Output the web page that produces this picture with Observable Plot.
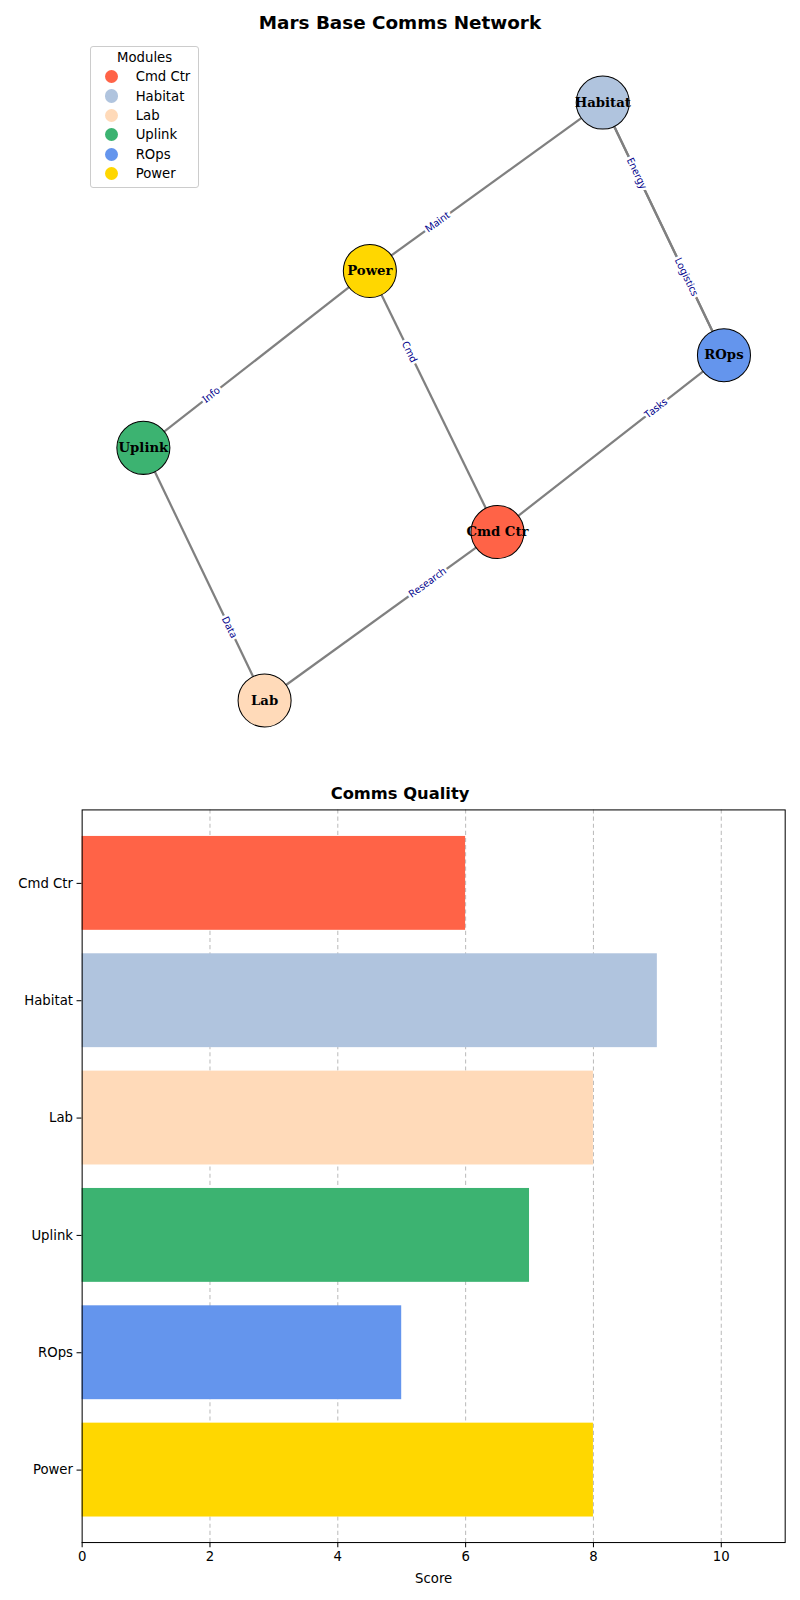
<!DOCTYPE html>
<html><head><meta charset="utf-8">
<script src="https://cdn.jsdelivr.net/npm/d3@7"></script>
<script src="https://cdn.jsdelivr.net/npm/@observablehq/plot@0.6"></script>
<style>
body{margin:0;background:#fff;font-family:"DejaVu Sans",sans-serif;}
#wrap{position:relative;width:784px;height:1568px;zoom:1.0204;}
.abs{position:absolute;}
.title{font-weight:bold;text-align:center;width:784px;left:0;}
#legend{left:88px;top:45px;border:1px solid #ccc;border-radius:3px;background:#fff;padding:3px 8px 4px 8px;font-size:13px;}
#legend .h{text-align:center;margin-bottom:2px;}
#legend .r{display:flex;align-items:center;height:19px;}
#legend .d{width:13px;height:13px;border-radius:50%;margin:0 17px 0 6px;}
</style></head><body><div id="wrap">
<div class="abs title" style="top:12px;font-size:18px;">Mars Base Comms Network</div>
<div class="abs" id="net" style="left:0;top:0;"></div>
<div class="abs" id="legend"></div>
<div class="abs title" style="top:768px;font-size:16px;">Comms Quality</div>
<div class="abs" id="bar" style="left:0;top:773px;"></div>
</div>
<script>
const modules = ["Cmd Ctr","Habitat","Lab","Uplink","ROps","Power"];
const colors = ["#FF6347","#B0C4DE","#FFDAB9","#3CB371","#6495ED","#FFD700"];
const nodeX = [6.5, 8.15, 2.85, 0.95, 10.05, 4.5];
const nodeY = [0.45, 3.0, -0.55, 0.95, 1.5, 2.0];
const scores = [6, 9, 8, 7, 5, 8];
const edgeFrom = ["Power","Habitat","ROps","Power","Cmd Ctr","Uplink","Uplink","Lab"];
const edgeTo   = ["Habitat","ROps","Habitat","Cmd Ctr","ROps","Power","Lab","Cmd Ctr"];
const edgeLabel= ["Maint","Energy","Logistics","Cmd","Tasks","Info","Data","Research"];
const edgeT    = [0.29, 0.28, 0.31, 0.31, 0.7, 0.3, 0.71, 0.7];

const nodes = modules.map((m,i)=>({name:m,x:nodeX[i],y:nodeY[i],color:colors[i]}));
const byName = Object.fromEntries(nodes.map(n=>[n.name,n]));
const xDom=[0.95,10.05], xRng=[140,709], yDom=[3,-0.55], yRng=[100,686];
const sx=d3.scaleLinear(xDom,xRng), sy=d3.scaleLinear(yDom,yRng);
const edges = edgeFrom.map((f,i)=>{
  const a=byName[f], b=byName[edgeTo[i]], t=edgeT[i];
  let ang=Math.atan2(sy(b.y)-sy(a.y), sx(b.x)-sx(a.x))*180/Math.PI;
  if(ang>90) ang-=180; if(ang<-90) ang+=180;
  return {x1:a.x,y1:a.y,x2:b.x,y2:b.y,lx:a.x+(b.x-a.x)*t,ly:a.y+(b.y-a.y)*t,label:edgeLabel[i],ang};
});

const net = Plot.plot({
  width:784,height:760,margin:0,
  x:{domain:xDom,range:xRng,axis:null},
  y:{domain:yDom,range:yRng,axis:null},
  marks:[
    Plot.link(edges,{x1:"x1",y1:"y1",x2:"x2",y2:"y2",stroke:"gray",strokeWidth:2.2}),
    Plot.text(edges,{x:"lx",y:"ly",text:"label",rotate:"ang",fill:"#00008B",fontSize:10,stroke:"white",strokeWidth:5,paintOrder:"stroke"}),
    Plot.dot(nodes,{x:"x",y:"y",r:26,fill:"color",stroke:"black",strokeWidth:1}),
    Plot.text(nodes,{x:"x",y:"y",text:"name",fontWeight:"bold",fontSize:13,fontFamily:"DejaVu Serif",fill:"black"})
  ]
});
document.getElementById("net").appendChild(net);

const lg=document.getElementById("legend");
lg.innerHTML='<div class="h">Modules</div>'+modules.map((m,i)=>`<div class="r"><span class="d" style="background:${colors[i]}"></span>${m}</div>`).join("");

const bars = modules.map((m,i)=>({name:m,score:scores[i],color:colors[i]}));
const bar = Plot.plot({
  width:784,height:790,marginLeft:80,marginRight:15,marginTop:20,marginBottom:52,
  style:{fontSize:"13px",fontFamily:"DejaVu Sans"},
  x:{domain:[0,11],ticks:[0,2,4,6,8,10],label:"Score",labelAnchor:"center",labelArrow:"none",labelOffset:40,tickSize:5},
  y:{domain:modules,label:null,padding:0.2,tickSize:5},
  marks:[
    Plot.gridX([2,4,6,8,10],{stroke:"#aaa",strokeDasharray:"4,3",strokeOpacity:0.8}),
    Plot.barX(bars,{x:"score",y:"name",fill:"color"}),
    Plot.frame({stroke:"black"})
  ]
});
document.getElementById("bar").appendChild(bar);
</script></body></html>
